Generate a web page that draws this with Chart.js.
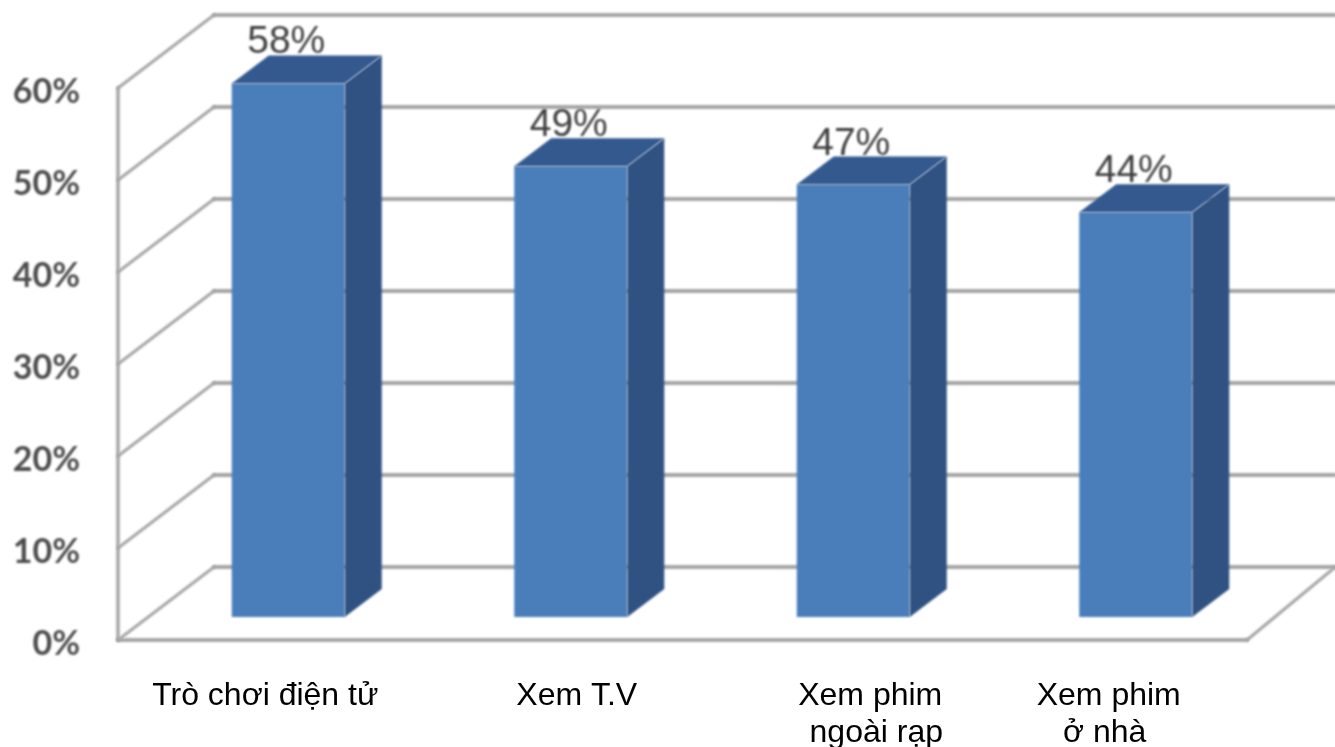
<!DOCTYPE html>
<html>
<head>
<meta charset="utf-8">
<style>
  html, body { margin: 0; padding: 0; background: #fff; overflow: hidden; }
  canvas { display: block; }
</style>
<script src="https://cdn.jsdelivr.net/npm/chart.js@4/dist/chart.umd.js"></script>
</head>
<body>
<canvas id="chart" width="1335" height="747"></canvas>
<script>
  // --- data ---
  const categories = ['Trò chơi điện tử', 'Xem T.V', ['Xem phim', 'ngoài rạp'], ['Xem phim', 'ở nhà']];
  const values = [58, 49, 47, 44];
  const yTicks = [0, 10, 20, 30, 40, 50, 60];

  // --- look of the 3d box ---
  const GRID = '#a6a6a6';
  const FRONT = '#4a7ebb';
  const SIDE = '#2f5282';
  const TOP = '#33598f';
  const WALL_DX = 96, WALL_DY = -73;   // back wall seen from the front edge
  const BAR_DX = 37, BAR_DY = -28;     // bar depth
  const BAR_LIFT = 23;                 // bars stand a bit behind the front edge
  const WALL_LEFT = 118, FLOOR_RIGHT = 1247;
  // the labels were placed by hand, not centred
  const CAT_SHIFT = [-23, 6, 17, -27];
  const CAT_ROW2_SHIFT = [0, 0, 6, -4];

  function line(ctx, x1, y1, x2, y2) {
    ctx.beginPath();
    ctx.moveTo(x1, y1);
    ctx.lineTo(x2, y2);
    ctx.stroke();
  }

  function poly(ctx, pts, color) {
    ctx.fillStyle = color;
    ctx.beginPath();
    pts.forEach((p, i) => i ? ctx.lineTo(p[0], p[1]) : ctx.moveTo(p[0], p[1]));
    ctx.closePath();
    ctx.fill();
  }

  const box3d = {
    id: 'box3d',
    beforeDraw(chart) {
      // the source is a soft screenshot, everything but the category text is a bit blurred
      chart.ctx.filter = 'blur(0.8px)';
    },
    beforeDatasetsDraw(chart) {
      const { ctx, scales: { y }, width } = chart;
      ctx.save();
      ctx.strokeStyle = GRID;
      ctx.lineCap = 'round';
      yTicks.forEach(v => {
        const py = y.getPixelForValue(v);
        ctx.lineWidth = 3;
        line(ctx, WALL_LEFT, py, WALL_LEFT + WALL_DX, py + WALL_DY);
        ctx.lineWidth = 4;
        line(ctx, WALL_LEFT + WALL_DX, py + WALL_DY, width, py + WALL_DY);
      });
      const y0 = y.getPixelForValue(0);
      ctx.lineWidth = 3.5;
      line(ctx, WALL_LEFT, y.getPixelForValue(60), WALL_LEFT, y0);
      ctx.lineWidth = 4;
      line(ctx, WALL_LEFT, y0, FLOOR_RIGHT, y0);
      ctx.lineWidth = 3;
      line(ctx, FLOOR_RIGHT, y0, FLOOR_RIGHT + WALL_DX * 0.92, y0 + WALL_DY);
      ctx.restore();

      // bars go on a plane slightly behind the axis line
      ctx.save();
      ctx.translate(0, -BAR_LIFT);
    },
    afterDatasetsDraw(chart) {
      const { ctx, scales: { x, y } } = chart;
      ctx.restore();

      chart.getDatasetMeta(0).data.forEach((bar, i) => {
        const l = bar.x - bar.width / 2, r = bar.x + bar.width / 2;
        const t = bar.y - BAR_LIFT, b = y.getPixelForValue(0) - BAR_LIFT;
        poly(ctx, [[r, t], [r + BAR_DX, t + BAR_DY], [r + BAR_DX, b + BAR_DY], [r, b]], SIDE);
        poly(ctx, [[l, t], [l + BAR_DX, t + BAR_DY], [r + BAR_DX, t + BAR_DY], [r, t]], TOP);

        ctx.save();
        ctx.fillStyle = '#3f3f3f';
        ctx.font = '39px "Liberation Sans"';
        ctx.textAlign = 'center';
        ctx.textBaseline = 'alphabetic';
        ctx.fillText(values[i] + '%', bar.x - 2, t - 30);
        ctx.restore();
      });

      // category labels, these are sharp in the source
      ctx.save();
      ctx.filter = 'none';
      ctx.fillStyle = '#000';
      ctx.font = '32px "Liberation Sans"';
      ctx.textAlign = 'center';
      ctx.textBaseline = 'alphabetic';
      categories.forEach((c, i) => {
        const cx = x.getPixelForValue(i) + CAT_SHIFT[i];
        [].concat(c).forEach((txt, r) => {
          ctx.fillText(txt, cx + (r ? CAT_ROW2_SHIFT[i] : 0), y.bottom + 65 + r * 37);
        });
      });
      ctx.restore();
    }
  };

  new Chart(document.getElementById('chart'), {
    type: 'bar',
    data: {
      labels: categories,
      datasets: [{
        data: values,
        backgroundColor: FRONT,
        borderWidth: 0,
        barPercentage: 0.4,
        categoryPercentage: 1,
        clip: false
      }]
    },
    options: {
      responsive: false,
      animation: false,
      events: [],
      layout: { padding: { left: 0, top: 88, right: 58, bottom: 107 } },
      plugins: { legend: { display: false }, tooltip: { enabled: false }, title: { display: false } },
      scales: {
        x: {
          afterFit(scale) { scale.height = 0; },
          grid: { display: false },
          border: { display: false },
          ticks: { display: false }
        },
        y: {
          min: 0,
          max: 60,
          afterFit(scale) { scale.width = 147; },
          afterBuildTicks(scale) { scale.ticks = yTicks.map(v => ({ value: v })); },
          grid: { display: false, drawTicks: false },
          border: { display: false },
          ticks: {
            color: '#4d4d4d',
            padding: 67,
            labelOffset: 4,
            font: { family: 'Lato, "Liberation Sans"', size: 34, weight: 'bold' },
            callback: v => v + '%'
          }
        }
      }
    },
    plugins: [box3d]
  });
</script>
</body>
</html>
